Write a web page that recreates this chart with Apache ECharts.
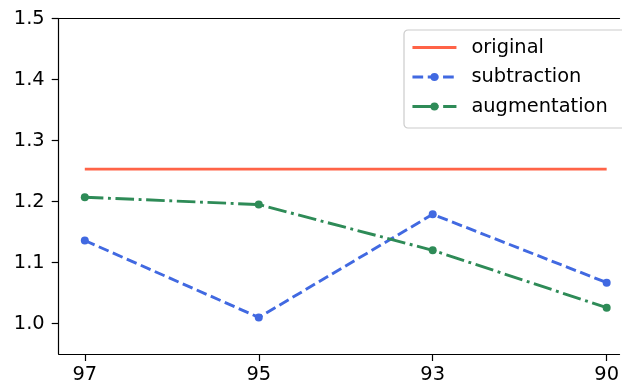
<!DOCTYPE html>
<html>
<head>
<meta charset="utf-8">
<script src="https://cdn.jsdelivr.net/npm/echarts@6/dist/echarts.min.js"></script>
<style>
  html, body { margin: 0; padding: 0; background: #fff; }
  #chart { width: 622px; height: 388px; }
</style>
</head>
<body>
<div id="chart"></div>
<script>
// data
const categories = ['97', '95', '93', '90']
const original = [1.253, 1.253, 1.253, 1.253]
const subtraction = [1.136, 1.010, 1.179, 1.067]
const augmentation = [1.207, 1.195, 1.120, 1.026]
const yTicks = [1.0, 1.1, 1.2, 1.3, 1.4, 1.5]
const xTicks = [0, 1, 2, 3]

const font = 'DejaVu Sans'
const lw = 2.9
const axisStyle = { color: '#000', width: 1.2 }

function toPairs(arr) {
  return arr.map((v, i) => [i, v])
}

let chart = echarts.init(document.getElementById('chart'))
let option = {
  animation: false,
  textStyle: { fontFamily: font },
  grid: { left: 58.7, top: 18.5, right: 0, bottom: 34 },
  legend: {
    orient: 'vertical',
    left: 404, top: 30,
    padding: [8, 30, 12, 7],
    itemWidth: 44, itemHeight: 10, itemGap: 10.5,
    backgroundColor: 'rgba(255,255,255,0.85)',
    borderColor: '#cccccc', borderWidth: 1.2, borderRadius: 4,
    textStyle: { fontFamily: font, fontSize: 19.4, color: '#000', padding: [0, 0, 0, 10] },
    data: [
      { name: 'original', itemStyle: { opacity: 0 }, lineStyle: { width: lw } },
      { name: 'subtraction', lineStyle: { width: lw } },
      { name: 'augmentation', lineStyle: { width: lw } }
    ]
  },
  xAxis: [
    {
      type: 'value',
      // plot area runs past the right edge of the picture
      min: -0.15, max: 3.074,
      splitLine: { show: false },
      axisLine: { show: true, onZero: false, lineStyle: axisStyle },
      axisTick: { show: true, length: 7, customValues: xTicks, lineStyle: axisStyle },
      axisLabel: {
        customValues: xTicks, margin: 11,
        fontSize: 19.4, color: '#000', fontFamily: font,
        formatter: v => categories[Math.round(v)]
      }
    },
    {
      // top spine only
      type: 'value', position: 'top',
      min: -0.15, max: 3.074,
      splitLine: { show: false },
      axisLine: { show: true, onZero: false, lineStyle: axisStyle },
      axisTick: { show: false },
      axisLabel: { show: false }
    }
  ],
  yAxis: {
    type: 'value',
    min: 0.95, max: 1.5,
    splitLine: { show: false },
    axisLine: { show: true, onZero: false, lineStyle: axisStyle },
    axisTick: { show: true, length: 7, customValues: yTicks, lineStyle: axisStyle },
    axisLabel: {
      customValues: yTicks, margin: 14,
      fontSize: 19.4, color: '#000', fontFamily: font,
      formatter: v => v.toFixed(1)
    }
  },
  series: [
    {
      name: 'original', type: 'line', data: toPairs(original),
      symbol: 'none', color: '#ff6347',
      lineStyle: { width: lw, color: '#ff6347' }
    },
    {
      name: 'subtraction', type: 'line', data: toPairs(subtraction),
      symbol: 'circle', symbolSize: 8, color: '#4169e1',
      lineStyle: { width: lw, color: '#4169e1', type: [10.7, 4.6] }
    },
    {
      name: 'augmentation', type: 'line', data: toPairs(augmentation),
      symbol: 'circle', symbolSize: 8, color: '#2e8b57',
      lineStyle: { width: lw, color: '#2e8b57', type: [18.6, 4.6, 2.9, 4.6] }
    }
  ]
}
chart.setOption(option)
</script>
</body>
</html>
